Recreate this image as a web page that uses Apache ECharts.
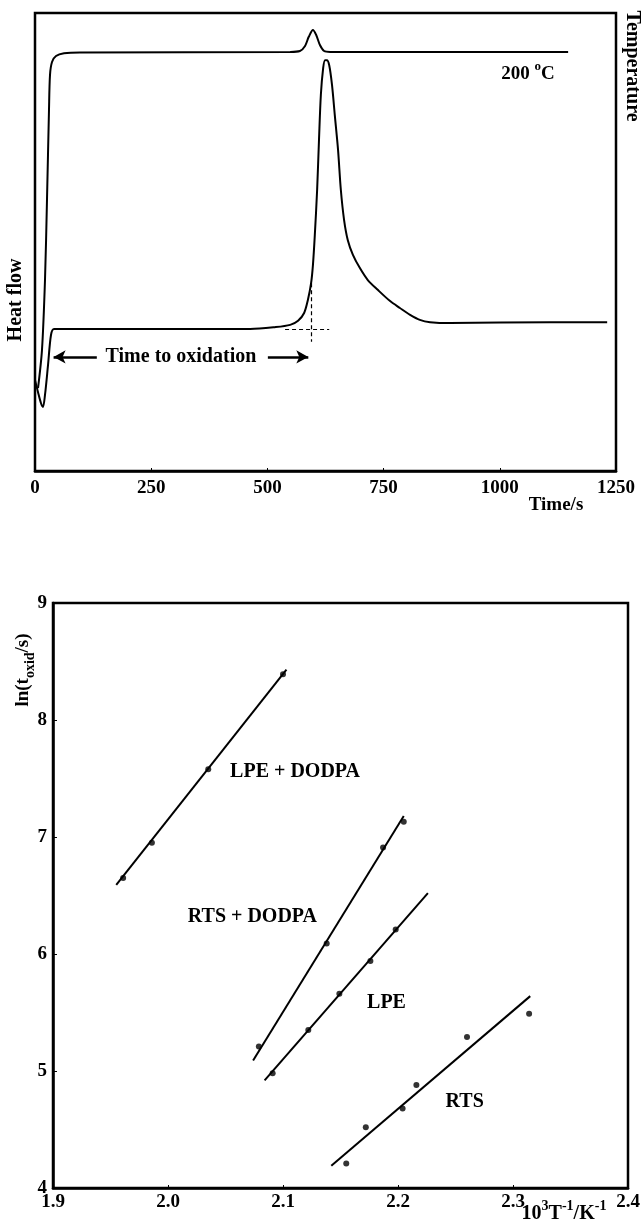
<!DOCTYPE html>
<html>
<head>
<meta charset="utf-8">
<script src="https://cdn.jsdelivr.net/npm/echarts@6/dist/echarts.min.js"></script>
<style>
  html, body { margin: 0; padding: 0; background: #fff; }
  #chart { width: 643px; height: 1232px; }
</style>
</head>
<body>
<div id="chart"></div>
<script>
const FONT = '"Liberation Serif", "Times New Roman", serif';

// ---- DSC trace at 200 °C (time in s, signal in arbitrary units) ----
const heatFlowTime  = [0, 6.5, 12.9, 17.2, 21.5, 28.0, 34.4, 40.9, 140, 463, 516, 549, 566, 579, 587, 594, 598, 602, 607, 611, 615, 620, 624, 628, 633, 639, 645, 652, 658, 665, 673, 684, 699, 716, 738, 764, 785, 807, 828, 850, 893, 1108, 1231];
const heatFlowValue = [19.9, 17.2, 14.8, 14.0, 16.6, 23.1, 29.7, 31.0, 31.0, 31.0, 31.4, 31.9, 32.8, 34.5, 37.3, 41.0, 45.0, 51.5, 61.4, 72.3, 82.1, 88.0, 89.7, 89.7, 88.6, 84.3, 77.7, 70.1, 61.4, 54.8, 50.4, 47.2, 44.3, 41.7, 39.5, 37.1, 35.6, 34.1, 33.0, 32.5, 32.3, 32.5, 32.5];
const temperatureTime  = [6.5, 15, 21.5, 25.8, 30.1, 32.3, 36.6, 45.2, 62.4, 96.8, 549, 570, 581, 589, 598, 605, 613, 622, 635, 1147];
const temperatureValue = [18.1, 26.4, 41.7, 59.2, 78.8, 86.5, 89.3, 90.6, 91.2, 91.4, 91.5, 91.7, 92.8, 94.8, 96.3, 95.2, 93.0, 91.7, 91.5, 91.5];
const timeTicks = [0, 250, 500, 750, 1000, 1250];

// onset construction and "time to oxidation" span (s, signal units)
const onsetTime = 594;
const baselineLevel = 31.0;

// ---- Arrhenius plot: ln(t_oxid) against 1000/T ----
const invTempTicks = [1.9, 2.0, 2.1, 2.2, 2.3, 2.4];
const lnTicks = [4, 5, 6, 7, 8, 9];

const lpeDodpaX = [1.961, 1.986, 2.035, 2.100];
const lpeDodpaY = [6.65, 6.95, 7.58, 8.39];
const lpeDodpaFitX = [1.955, 2.103];
const lpeDodpaFitY = [6.59, 8.43];

const rtsDodpaX = [2.079, 2.138, 2.187, 2.205];
const rtsDodpaY = [5.21, 6.09, 6.91, 7.13];
const rtsDodpaFitX = [2.074, 2.205];
const rtsDodpaFitY = [5.09, 7.18];

const lpeX = [2.091, 2.122, 2.149, 2.176, 2.198];
const lpeY = [4.98, 5.35, 5.66, 5.94, 6.21];
const lpeFitX = [2.084, 2.226];
const lpeFitY = [4.92, 6.52];

const rtsX = [2.155, 2.172, 2.204, 2.216, 2.260, 2.314];
const rtsY = [4.21, 4.52, 4.68, 4.88, 5.29, 5.49];
const rtsFitX = [2.142, 2.315];
const rtsFitY = [4.19, 5.64];

const zip = (xs, ys) => xs.map((x, i) => [x, ys[i]]);

const chart = echarts.init(document.getElementById('chart'), null, { renderer: 'canvas' });

const tickLabel = { color: '#000', fontFamily: FONT, fontWeight: 'bold', fontSize: 19 };
const frame = { show: true, borderColor: '#000', borderWidth: 2.5, backgroundColor: 'transparent' };

function fitLine(name, xs, ys) {
  return {
    name, type: 'line', xAxisIndex: 1, yAxisIndex: 2, data: zip(xs, ys),
    showSymbol: false, lineStyle: { color: '#000', width: 2 }, silent: true, z: 3
  };
}
function points(name, xs, ys) {
  return {
    name, type: 'scatter', xAxisIndex: 1, yAxisIndex: 2, data: zip(xs, ys),
    symbol: 'circle', symbolSize: 6, itemStyle: { color: '#000' }, silent: true, z: 4
  };
}

const option = {
  animation: false,
  backgroundColor: '#fff',
  grid: [
    Object.assign({ left: 35, right: 27, top: 13, height: 458 }, frame),
    Object.assign({ left: 53, right: 15, top: 603, height: 585 }, frame)
  ],
  xAxis: [
    {
      gridIndex: 0, type: 'value',
      min: timeTicks[0], max: timeTicks[timeTicks.length - 1],
      interval: timeTicks[1] - timeTicks[0],
      axisLine: { lineStyle: { color: '#000', width: 2.5 } },
      axisTick: { inside: true, length: 3, lineStyle: { color: '#000' } },
      axisLabel: Object.assign({ margin: 8, formatter: v => String(v) }, tickLabel),
      splitLine: { show: false }
    },
    {
      gridIndex: 1, type: 'value',
      min: invTempTicks[0], max: invTempTicks[invTempTicks.length - 1],
      interval: 0.1,
      axisLine: { lineStyle: { color: '#000', width: 2.5 } },
      axisTick: { inside: true, length: 3, lineStyle: { color: '#000' } },
      axisLabel: Object.assign({ margin: 5, formatter: v => v.toFixed(1) }, tickLabel),
      splitLine: { show: false }
    }
  ],
  yAxis: [
    { gridIndex: 0, type: 'value', min: 0, max: 100, show: false },
    { gridIndex: 0, type: 'value', min: 0, max: 100, show: false, position: 'right' },
    {
      gridIndex: 1, type: 'value',
      min: lnTicks[0], max: lnTicks[lnTicks.length - 1], interval: 1,
      axisLine: { show: true, lineStyle: { color: '#000', width: 2.5 } },
      axisTick: { inside: true, length: 4, lineStyle: { color: '#000' } },
      axisLabel: Object.assign({ margin: 6 }, tickLabel),
      splitLine: { show: false }
    }
  ],
  series: [
    {
      name: 'Heat flow', type: 'line', xAxisIndex: 0, yAxisIndex: 0,
      data: zip(heatFlowTime, heatFlowValue),
      showSymbol: false, smooth: 0.3,
      lineStyle: { color: '#000', width: 2 }, silent: true,
      markLine: {
        silent: true, animation: false,
        symbol: ['none', 'none'],
        label: { show: false },
        lineStyle: { color: '#000', width: 2.5, type: 'solid' },
        data: [
          [ { coord: [133, 24.9] }, { coord: [40, 24.9], symbol: 'arrow', symbolSize: [10, 12] } ],
          [ { coord: [501, 24.9] }, { coord: [588, 24.9], symbol: 'arrow', symbolSize: [10, 12] } ],
          [ { coord: [538, baselineLevel], lineStyle: { type: [4, 3], width: 1.2 } },
            { coord: [633, baselineLevel] } ],
          [ { coord: [onsetTime, 41.0], lineStyle: { type: [4, 3], width: 1.2 } },
            { coord: [onsetTime, 28.2] } ]
        ]
      }
    },
    {
      name: 'Temperature', type: 'line', xAxisIndex: 0, yAxisIndex: 1,
      data: zip(temperatureTime, temperatureValue),
      showSymbol: false, smooth: 0.3,
      lineStyle: { color: '#000', width: 2 }, silent: true
    },
    fitLine('LPE + DODPA fit', lpeDodpaFitX, lpeDodpaFitY),
    points('LPE + DODPA', lpeDodpaX, lpeDodpaY),
    fitLine('RTS + DODPA fit', rtsDodpaFitX, rtsDodpaFitY),
    points('RTS + DODPA', rtsDodpaX, rtsDodpaY),
    fitLine('LPE fit', lpeFitX, lpeFitY),
    points('LPE', lpeX, lpeY),
    fitLine('RTS fit', rtsFitX, rtsFitY),
    points('RTS', rtsX, rtsY)
  ]
};

chart.setOption(option);

// ---- text annotations ----
const txt = (extra) => Object.assign({
  fill: '#000', fontFamily: FONT, fontWeight: 'bold', fontSize: 19
}, extra);

// rich-text pieces: base text fills the line, superscripts hang from the top,
// subscripts sit at the bottom
const scriptRich = (base) => ({
  n:   { fontFamily: FONT, fontWeight: 'bold', fontSize: base, lineHeight: Math.round(base * 1.45), verticalAlign: 'middle', fill: '#000' },
  sup: { fontFamily: FONT, fontWeight: 'bold', fontSize: Math.round(base * 0.68), lineHeight: Math.round(base * 0.72), verticalAlign: 'top', fill: '#000' },
  sub: { fontFamily: FONT, fontWeight: 'bold', fontSize: Math.round(base * 0.72), lineHeight: Math.round(base * 0.75), verticalAlign: 'bottom', fill: '#000' }
});

const toTop = (p) => chart.convertToPixel({ xAxisIndex: 0, yAxisIndex: 0 }, p);
const toBot = (p) => chart.convertToPixel({ xAxisIndex: 1, yAxisIndex: 2 }, p);

const p200 = toTop([1003, 86.6]);
const pOx = toTop([314, 24.9]);
const pLD = toBot([2.054, 7.556]);
const pRD = toBot([2.1296, 6.316]);
const pL = toBot([2.190, 5.584]);
const pR = toBot([2.258, 4.738]);

chart.setOption({
  graphic: [
    { type: 'text', x: 16, y: 300, rotation: Math.PI / 2,
      style: txt({ text: 'Heat flow', fontSize: 20, textAlign: 'center', textVerticalAlign: 'middle' }) },
    { type: 'text', x: 632, y: 66, rotation: -Math.PI / 2,
      style: txt({ text: 'Temperature', fontSize: 20, textAlign: 'center', textVerticalAlign: 'middle' }) },
    { type: 'text', x: 556, y: 505,
      style: txt({ text: 'Time/s', textAlign: 'center', textVerticalAlign: 'middle' }) },
    { type: 'text', x: p200[0], y: p200[1],
      style: { text: '{n|200 }{sup|o}{n|C}', rich: scriptRich(19), textAlign: 'left', textVerticalAlign: 'middle' } },
    { type: 'text', x: pOx[0], y: pOx[1],
      style: txt({ text: 'Time to oxidation', fontSize: 20, textAlign: 'center', textVerticalAlign: 'middle' }) },
    { type: 'text', x: 23, y: 670, rotation: Math.PI / 2,
      style: { text: '{n|ln(t}{sub|oxid}{n|/s)}', rich: scriptRich(19), textAlign: 'center', textVerticalAlign: 'middle' } },
    { type: 'text', x: 564, y: 1214,
      style: { text: '{n|10}{sup|3}{n|T}{sup|-1}{n|/K}{sup|-1}', rich: scriptRich(20), textAlign: 'center', textVerticalAlign: 'middle' } },
    { type: 'text', x: pLD[0], y: pLD[1],
      style: txt({ text: 'LPE + DODPA', fontSize: 20, textAlign: 'left', textVerticalAlign: 'middle' }) },
    { type: 'text', x: pRD[0], y: pRD[1],
      style: txt({ text: 'RTS + DODPA', fontSize: 20, textAlign: 'right', textVerticalAlign: 'middle' }) },
    { type: 'text', x: pL[0], y: pL[1],
      style: txt({ text: 'LPE', fontSize: 20, textAlign: 'center', textVerticalAlign: 'middle' }) },
    { type: 'text', x: pR[0], y: pR[1],
      style: txt({ text: 'RTS', fontSize: 20, textAlign: 'center', textVerticalAlign: 'middle' }) }
  ]
});
</script>
</body>
</html>
